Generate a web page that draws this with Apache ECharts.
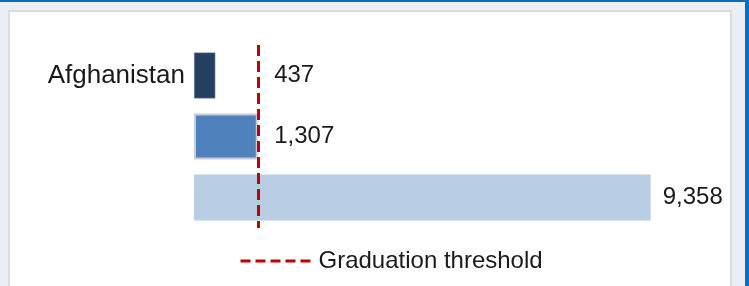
<!DOCTYPE html>
<html>
<head>
<meta charset="utf-8">
<script src="https://cdn.jsdelivr.net/npm/echarts@6/dist/echarts.min.js"></script>
<style>
  html, body { margin: 0; padding: 0; background: #EAEFF7; overflow: hidden; }
  #topband { position: absolute; left: 0; top: 0; width: 749px; height: 2px; background: #0B6FBE; }
  #rightband { position: absolute; left: 745px; top: 0; width: 4px; height: 286px; background: #0B6FBE; }
  #panel { position: absolute; left: 8px; top: 10px; width: 724px; height: 300px; background: #fff;
           border: 2px solid #DADCDF; box-sizing: border-box; }
  #main { position: absolute; left: 0; top: 0; width: 749px; height: 286px; }
</style>
</head>
<body>
<div id="topband"></div>
<div id="rightband"></div>
<div id="panel"></div>
<div id="main"></div>
<script>
// 数据
var categories = ['Afghanistan', '', ''];
var values = [437, 1307, 9358];
var barColors = ['#243F60', '#4F81BD', '#B9CDE5'];
var threshold = 1315;
var thresholdName = 'Graduation threshold';

var FONT = '"Liberation Sans", Arial, sans-serif';
var TEXT = '#1a1a1a';

var myChart = echarts.init(document.getElementById('main'));

// 标签放在柱子末端或阈值线右侧
var labelPoints = [];
for (var i = 0; i < values.length; i++) {
    var past = values[i] > threshold;
    labelPoints.push({
        value: [Math.max(values[i], threshold), i],
        label: { distance: past ? 12 : 16 },
        text: echarts.format.addCommas(values[i])
    });
}

var barData = [];
for (var j = 0; j < values.length; j++) {
    barData.push({
        value: values[j],
        itemStyle: {
            color: barColors[j],
            borderColor: j === 1 ? '#C9CDD3' : (j === 0 ? '#8A9BB0' : barColors[j]),
            borderWidth: j === 1 ? 2 : (j === 0 ? 0.5 : 0)
        }
    });
}

var option = {
    animation: false,
    grid: { left: 194, width: 488, top: 45, height: 183, containLabel: false },
    legend: {
        data: [thresholdName],
        left: 239,
        top: 248,
        padding: 0,
        itemWidth: 70,
        itemHeight: 14,
        textStyle: { fontFamily: FONT, fontSize: 24, color: TEXT, lineHeight: 26, padding: [0, 0, 0, 3] },
        itemStyle: { opacity: 0 },
        lineStyle: { type: [10, 5], width: 3, color: '#C00000' },
        selectedMode: false
    },
    xAxis: {
        type: 'value',
        min: 0,
        max: 10000,
        show: false
    },
    yAxis: {
        type: 'category',
        inverse: true,
        data: categories,
        axisLine: { show: false },
        axisTick: { show: false },
        axisLabel: { margin: 9, fontFamily: FONT, fontSize: 26, color: TEXT }
    },
    series: [
        {
            type: 'bar',
            barWidth: 46,
            data: barData,
            silent: true
        },
        {
            name: thresholdName,
            type: 'line',
            data: [],
            symbol: 'none',
            symbolSize: 0,
            itemStyle: { color: '#C00000', opacity: 0 },
            lineStyle: { type: [10, 5], width: 3, color: '#C00000' },
            markLine: {
                silent: true,
                symbol: ['none', 'none'],
                label: { show: false },
                lineStyle: { type: [11, 5], width: 3, color: '#C00000', opacity: 1 },
                data: [{ xAxis: threshold }]
            }
        },
        {
            type: 'scatter',
            symbolSize: 0,
            silent: true,
            itemStyle: { opacity: 1 },
            data: labelPoints,
            label: {
                show: true,
                position: 'right',
                fontFamily: FONT,
                fontSize: 24,
                color: TEXT,
                opacity: 1,
                formatter: function (p) { return p.data.text; }
            }
        }
    ]
};
myChart.setOption(option);
</script>
</body>
</html>
